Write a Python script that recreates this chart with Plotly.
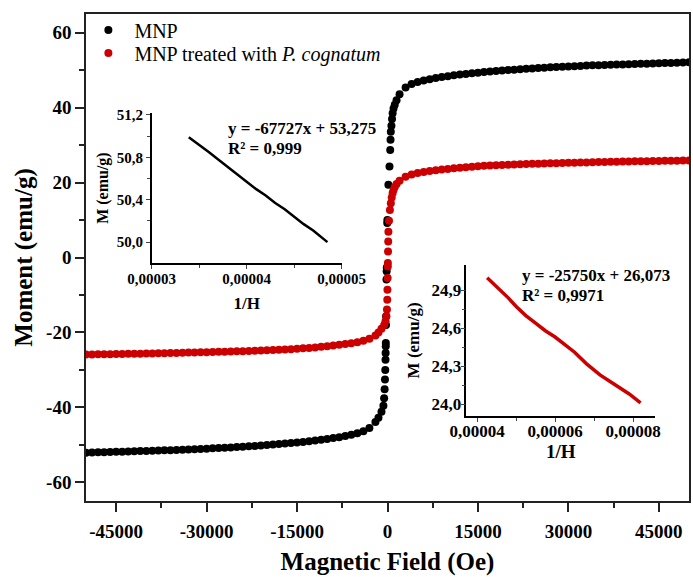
import plotly.graph_objects as go

# ---------------- data ----------------
mnp_field = [50000, 49000, 48000, 47000, 46000, 45000, 44000, 43000, 42000, 41000,
             40000, 39000, 38000, 37000, 36000, 35000, 34000, 33000, 32000, 31000,
             30000, 29000, 28000, 27000, 26000, 25000, 24000, 23000, 22000, 21000,
             20000, 19000, 18000, 17000, 16000, 15000, 14000, 13000, 12000, 11000,
             10000, 9000, 8000, 7000, 6000, 5000, 4000, 3000, 2000, 1500, 1200, 1000,
             850, 750, 650, 550, 500, 450, 330, 150, -20, -40, -120, -140, -170,
             -230, -250, -280, -290, -310, -330, -370, -420, -480, -560, -680,
             -1000, -1500, -2000, -3000, -4000, -5000, -6000, -7000, -8000, -9000,
             -10000, -11000, -12000, -13000, -14000, -15000, -16000, -17000, -18000, -19000,
             -20000, -21000, -22000, -23000, -24000, -25000, -26000, -27000, -28000, -29000,
             -30000, -31000, -32000, -33000, -34000, -35000, -36000, -37000, -38000, -39000,
             -40000, -41000, -42000, -43000, -44000, -45000, -46000, -47000, -48000, -49000, -50000]
mnp_moment = [52.1, 52.05, 52.0, 51.95, 51.9, 51.85, 51.8, 51.75, 51.7, 51.65,
              51.6, 51.55, 51.5, 51.45, 51.4, 51.35, 51.3, 51.22, 51.15, 51.08,
              51.0, 50.92, 50.85, 50.77, 50.68, 50.58, 50.48, 50.38, 50.27, 50.15,
              50.02, 49.9, 49.78, 49.65, 49.5, 49.35, 49.18, 49.0, 48.82, 48.62,
              48.4, 48.15, 47.9, 47.6, 47.25, 46.85, 46.3, 45.4, 43.6, 42.0, 40.8, 39.8,
              38.5, 37.0, 35.2, 33.6, 31.4, 28.7, 24.3, 19.4, 10.0, 9.2, -2.7, -3.7, -5.9,
              -15.7, -18.0, -22.8, -23.7, -25.5, -27.3, -30.0, -32.6, -35.2, -37.6, -39.6,
              -41.2, -42.8, -43.9, -45.5, -46.4, -46.9, -47.3, -47.65, -47.95, -48.2,
              -48.45, -48.65, -48.85, -49.05, -49.22, -49.38, -49.52, -49.67, -49.8, -49.92,
              -50.05, -50.17, -50.29, -50.4, -50.5, -50.6, -50.7, -50.79, -50.87, -50.95,
              -51.02, -51.1, -51.17, -51.24, -51.31, -51.37, -51.42, -51.47, -51.52, -51.57,
              -51.62, -51.67, -51.72, -51.77, -51.82, -51.87, -51.92, -51.96, -52.0, -52.05, -52.1]

treated_field = [50000, 49000, 48000, 47000, 46000, 45000, 44000, 43000, 42000, 41000,
                 40000, 39000, 38000, 37000, 36000, 35000, 34000, 33000, 32000, 31000,
                 30000, 29000, 28000, 27000, 26000, 25000, 24000, 23000, 22000, 21000,
                 20000, 19000, 18000, 17000, 16000, 15000, 14000, 13000, 12000, 11000,
                 10000, 9000, 8000, 7000, 6000, 5000, 4000, 3000, 2000, 1500, 1200, 1000,
                 850, 700, 550, 400, 250, 150, 120, 90, 60, 50, 20, -10, -40, -90, -180,
                 -330, -550,
                 -1000, -1500, -2000, -3000, -4000, -5000, -6000, -7000, -8000, -9000,
                 -10000, -11000, -12000, -13000, -14000, -15000, -16000, -17000, -18000, -19000,
                 -20000, -21000, -22000, -23000, -24000, -25000, -26000, -27000, -28000, -29000,
                 -30000, -31000, -32000, -33000, -34000, -35000, -36000, -37000, -38000, -39000,
                 -40000, -41000, -42000, -43000, -44000, -45000, -46000, -47000, -48000, -49000, -50000]
treated_moment = [25.9, 25.87, 25.85, 25.82, 25.8, 25.77, 25.75, 25.72, 25.7, 25.67,
                  25.64, 25.61, 25.58, 25.54, 25.5, 25.46, 25.42, 25.38, 25.34, 25.3,
                  25.26, 25.22, 25.18, 25.13, 25.08, 25.04, 25.0, 24.96, 24.9, 24.84,
                  24.77, 24.71, 24.64, 24.57, 24.47, 24.37, 24.24, 24.12, 23.98, 23.82,
                  23.65, 23.47, 23.28, 23.07, 22.85, 22.55, 22.15, 21.55, 20.5, 19.6, 18.8, 18.0,
                  17.2, 16.0, 14.5, 12.7, 9.8, 6.9, 4.3, 1.6, -1.5, -2.4, -5.5, -8.6, -11.3, -13.9, -15.7,
                  -17.0, -18.0,
                  -19.0, -20.0, -20.8, -21.7, -22.25, -22.62, -22.9, -23.12, -23.32, -23.5,
                  -23.67, -23.84, -24.0, -24.13, -24.25, -24.37, -24.47, -24.57, -24.64, -24.71,
                  -24.77, -24.84, -24.9, -24.96, -25.0, -25.04, -25.08, -25.13, -25.18, -25.22,
                  -25.26, -25.3, -25.34, -25.38, -25.42, -25.46, -25.5, -25.54, -25.58, -25.61,
                  -25.64, -25.67, -25.7, -25.72, -25.75, -25.77, -25.8, -25.82, -25.85, -25.87, -25.9]

inset1_invH = [3.39e-5, 3.5e-5, 3.6e-5, 3.7e-5, 3.8e-5, 3.9e-5, 4.0e-5, 4.1e-5, 4.2e-5,
               4.3e-5, 4.4e-5, 4.5e-5, 4.6e-5, 4.7e-5, 4.85e-5]
inset1_M = [50.99, 50.92, 50.85, 50.78, 50.71, 50.64, 50.57, 50.5, 50.44,
            50.37, 50.31, 50.24, 50.17, 50.11, 50.0]

inset2_invH = [4.26e-5, 4.4e-5, 4.6e-5, 4.8e-5, 5.01e-5, 5.25e-5, 5.5e-5, 5.75e-5, 6.0e-5,
               6.25e-5, 6.5e-5, 6.8e-5, 7.15e-5, 7.4e-5, 7.6e-5, 7.9e-5, 8.19e-5]
inset2_M = [25.0, 24.96, 24.9, 24.84, 24.77, 24.7, 24.64, 24.58, 24.53,
            24.47, 24.41, 24.32, 24.23, 24.18, 24.14, 24.08, 24.01]

x_ticks = [-45000, -30000, -15000, 0, 15000, 30000, 45000]
x_ticklabels = ["-45000", "-30000", "-15000", "0", "15000", "30000", "45000"]
x_minor = [-37500, -22500, -7500, 7500, 22500, 37500]
y_ticks = [-60, -40, -20, 0, 20, 40, 60]
y_ticklabels = ["-60", "-40", "-20", "0", "20", "40", "60"]
y_minor = [-50, -30, -10, 10, 30, 50]

in1_xticks = [3e-5, 4e-5, 5e-5]
in1_xlabels = ["0,00003", "0,00004", "0,00005"]
in1_xminor = [3.5e-5, 4.5e-5]
in1_yticks = [50.0, 50.4, 50.8, 51.2]
in1_ylabels = ["50,0", "50,4", "50,8", "51,2"]
in1_yminor = [50.2, 50.6, 51.0]

in2_xticks = [4e-5, 6e-5, 8e-5]
in2_xlabels = ["0,00004", "0,00006", "0,00008"]
in2_xminor = [5e-5, 7e-5]
in2_yticks = [24.0, 24.3, 24.6, 24.9]
in2_ylabels = ["24,0", "24,3", "24,6", "24,9"]
in2_yminor = [24.15, 24.45, 24.75]

BLACK = "#000000"
RED = "#cc0000"
FONT = "Liberation Serif"

fig = go.Figure()
fig.add_trace(go.Scatter(x=mnp_field, y=mnp_moment, mode="markers", name="MNP",
                         marker=dict(color=BLACK, size=8), xaxis="x", yaxis="y",
                         legend="legend"))
fig.add_trace(go.Scatter(x=treated_field, y=treated_moment, mode="markers",
                         name="MNP treated with <i>P. cognatum</i>",
                         marker=dict(color=RED, size=8), xaxis="x", yaxis="y",
                         legend="legend2"))
fig.add_trace(go.Scatter(x=inset1_invH, y=inset1_M, mode="lines", showlegend=False,
                         line=dict(color=BLACK, width=2.5), xaxis="x2", yaxis="y2"))
fig.add_trace(go.Scatter(x=inset2_invH, y=inset2_M, mode="lines", showlegend=False,
                         line=dict(color=RED, width=3.5), xaxis="x3", yaxis="y3"))

bold = lambda s: dict(family=FONT, size=s, color="black", weight="bold")
leg = lambda yy: dict(x=-0.006, y=yy, xanchor="left", yanchor="middle",
                      bgcolor="rgba(0,0,0,0)", font=dict(family=FONT, size=20, color="black"),
                      itemwidth=42)

fig.update_layout(
    width=693, height=577,
    margin=dict(l=86, r=4, t=14, b=76, autoexpand=False),
    paper_bgcolor="white", plot_bgcolor="white",
    font=dict(family=FONT, color="black"),
    showlegend=True,
    legend=leg(0.967),
    legend2=leg(0.920),
    xaxis=dict(domain=[0, 1], range=[-50000, 50000], showline=True, mirror=True, automargin=False,
               linecolor="#222", linewidth=1.5, ticks="outside", ticklen=9, tickwidth=1.5,
               tickcolor="#222", tickmode="array", tickvals=x_ticks, ticktext=x_ticklabels,
               minor=dict(tickvals=x_minor, ticklen=5, tickwidth=1.5, tickcolor="#222", ticks="outside"),
               showgrid=False, zeroline=False, tickfont=bold(19), ticklabelstandoff=3,
               title=dict(text="Magnetic Field (Oe)", font=bold(25), standoff=12)),
    yaxis=dict(domain=[0, 1], range=[-65, 65], showline=True, mirror=True, automargin=False,
               linecolor="#222", linewidth=1.5, ticks="outside", ticklen=9, tickwidth=1.5,
               tickcolor="#222", tickmode="array", tickvals=y_ticks, ticktext=y_ticklabels,
               minor=dict(tickvals=y_minor, ticklen=5, tickwidth=1.5, tickcolor="#222", ticks="outside"),
               showgrid=False, zeroline=False, tickfont=bold(19),
               title=dict(text="Moment (emu/g)", font=bold(25), standoff=6)),
    xaxis2=dict(domain=[0.109, 0.4245], anchor="y2", range=[3e-5, 5.003e-5], automargin=False,
                showline=True, linecolor="black", linewidth=1.5, ticks="outside", ticklen=4,
                tickvals=in1_xticks, ticktext=in1_xlabels,
                minor=dict(tickvals=in1_xminor, ticklen=3, ticks="outside"),
                showgrid=False, zeroline=False, tickfont=bold(15), ticklabelstandoff=-3,
                title=dict(text="1/H", font=bold(17), standoff=11)),
    yaxis2=dict(domain=[0.488, 0.797], anchor="x2", range=[49.8, 51.22], automargin=False,
                showline=True, linecolor="black", linewidth=1.5, ticks="outside", ticklen=4,
                tickvals=in1_yticks, ticktext=in1_ylabels,
                minor=dict(tickvals=in1_yminor, ticklen=3, ticks="outside"),
                showgrid=False, zeroline=False, tickfont=bold(15),
                title=dict(text="M (emu/g)", font=bold(16), standoff=4)),
    xaxis3=dict(domain=[0.631, 0.9436], anchor="y3", range=[3.73e-5, 8.56e-5], automargin=False,
                showline=True, linecolor="black", linewidth=1.5, ticks="outside", ticklen=4,
                tickvals=in2_xticks, ticktext=in2_xlabels,
                minor=dict(tickvals=in2_xminor, ticklen=3, ticks="outside"),
                showgrid=False, zeroline=False, tickfont=bold(17), ticklabelstandoff=-5,
                title=dict(text="1/H", font=bold(19), standoff=4)),
    yaxis3=dict(domain=[0.175, 0.4846], anchor="x3", range=[23.907, 25.1], automargin=False,
                showline=True, linecolor="black", linewidth=1.5, ticks="outside", ticklen=4,
                tickvals=in2_yticks, ticktext=in2_ylabels,
                minor=dict(tickvals=in2_yminor, ticklen=3, ticks="outside"),
                showgrid=False, zeroline=False, tickfont=bold(17), ticklabelstandoff=-4,
                title=dict(text="M (emu/g)", font=bold(17), standoff=8)),
)

annots = [
    ("y = -67727x + 53,275", 0.232, 0.764),
    ("R² = 0,999", 0.232, 0.723),
    ("y = -25750x + 26,073", 0.7197, 0.464),
    ("R² = 0,9971", 0.7197, 0.4216),
]
for text, ax_, ay_ in annots:
    fig.add_annotation(text=text, x=ax_, y=ay_, xref="paper", yref="paper",
                       xanchor="left", yanchor="middle", showarrow=False,
                       font=bold(17))

# remove the default 8 px page margin so the figure fills the window exactly
fig.write_html("out.html", config={"displayModeBar": False},
               post_script="document.body.style.margin='0';document.body.style.overflow='hidden';")
